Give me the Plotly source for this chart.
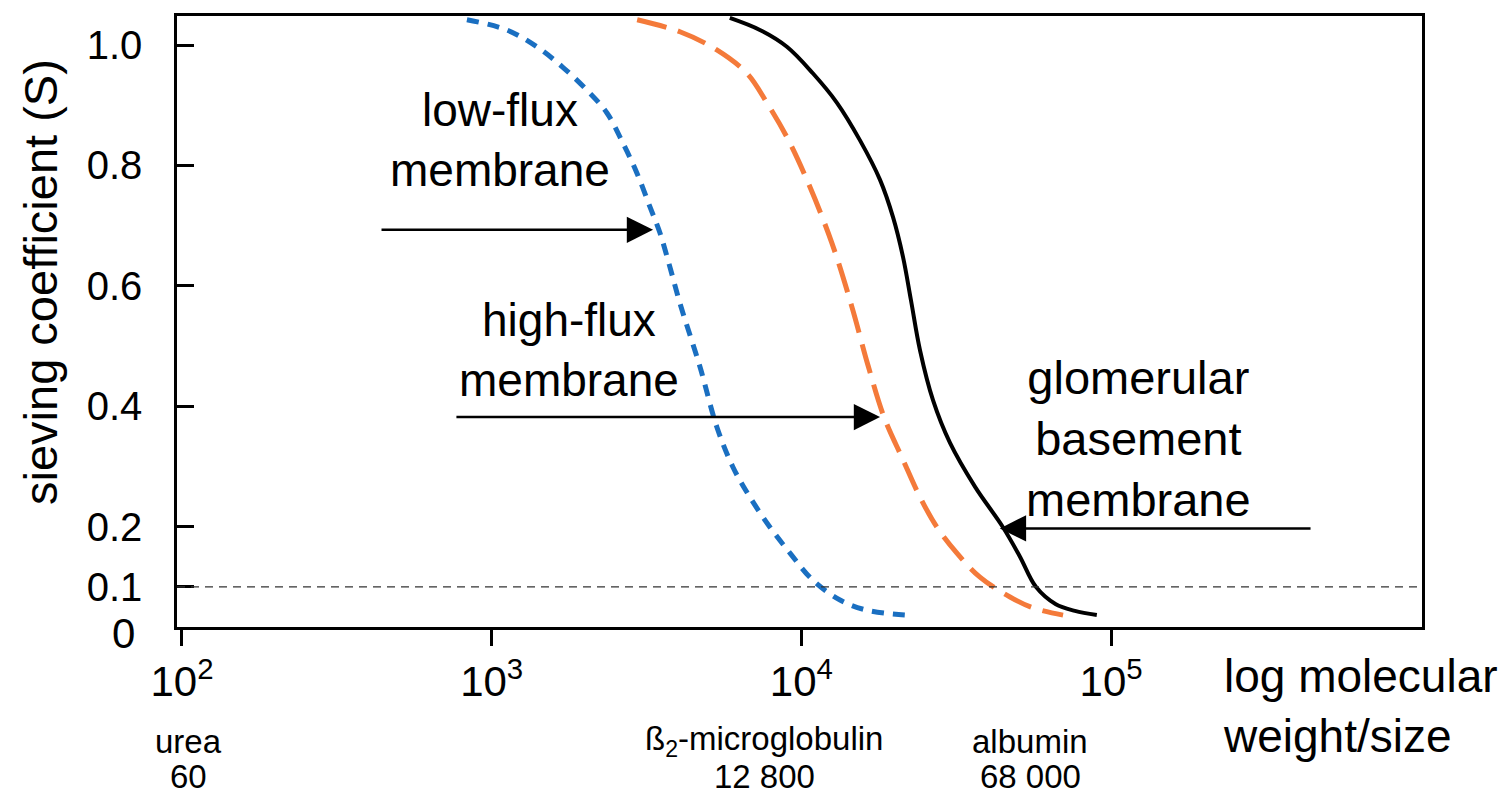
import math
import plotly.graph_objects as go

# ---------------- data ----------------
mw_low = [832, 1119, 1400, 1698, 2031, 2357, 2654, 2946, 3245, 3494, 3764, 4055,
          4708, 5338, 6010, 6820, 7920, 9190, 10890, 13330, 16300, 21930]
s_low = [1.042, 1.025, 0.997, 0.963, 0.925, 0.887, 0.837, 0.787, 0.731, 0.688, 0.631, 0.571,
         0.465, 0.365, 0.299, 0.249, 0.199, 0.156, 0.111, 0.078, 0.061, 0.053]

mw_high = [2950, 4055, 5333, 6670, 7740, 8980, 10420, 12550, 14560, 16410, 18490, 21290,
           24160, 27410, 31790, 37730, 47190, 55970, 69980]
s_high = [1.042, 1.022, 0.992, 0.953, 0.904, 0.847, 0.776, 0.671, 0.565, 0.468, 0.382, 0.311,
          0.249, 0.199, 0.156, 0.116, 0.083, 0.065, 0.053]

mw_gbm = [5875, 7345, 8980, 10890, 13030, 15450, 17950, 19770, 21290, 22590, 24160, 26610,
          30200, 36390, 44770, 50800, 57180, 66330, 76430, 89950]
s_gbm = [1.045, 1.025, 0.997, 0.953, 0.904, 0.842, 0.776, 0.714, 0.648, 0.576, 0.493, 0.410,
         0.339, 0.266, 0.199, 0.150, 0.100, 0.071, 0.060, 0.053]

x_tickvals = [1e2, 1e3, 1e4, 1e5]
x_ticktext = ["10<sup>2</sup>", "10<sup>3</sup>", "10<sup>4</sup>", "10<sup>5</sup>"]
y_tickvals = [0.1, 0.2, 0.4, 0.6, 0.8, 1.0]
y_ticktext = ["0.1", "0.2", "0.4", "0.6", "0.8", "1.0"]
threshold_s = 0.1

# arrows: (tip molecular weight, tip S, tail molecular weight)
arrow_low = (3320, 0.693, 436)
arrow_high = (17950, 0.382, 761)
arrow_gbm = (43750, 0.197, 445600)

marker_names = ["urea", "ß<sub>2</sub>-microglobulin", "albumin"]
marker_weights = ["60", "12 800", "68 000"]

# ---------------- layout geometry ----------------
W, H = 1505, 797
L, R, T, B = 177, 1422, 16, 627
FONT = "Liberation Sans, Arial, sans-serif"


def px(x):
    return (x - L) / (R - L)


def py(y):
    return (B - y) / (B - T)


fig = go.Figure()
fig.add_trace(go.Scatter(x=mw_low, y=s_low, mode="lines", line_shape="spline",
                         line=dict(color="#1a6fc1", width=5, dash="12px,9px"),
                         name="low-flux", showlegend=False))
fig.add_trace(go.Scatter(x=mw_high, y=s_high, mode="lines", line_shape="spline",
                         line=dict(color="#f47a3a", width=5, dash="30px,12px"),
                         name="high-flux", showlegend=False))
fig.add_trace(go.Scatter(x=mw_gbm, y=s_gbm, mode="lines", line_shape="spline",
                         line=dict(color="black", width=4),
                         name="glomerular", showlegend=False))

fig.add_shape(type="line", xref="paper", yref="y", x0=0, x1=1, y0=threshold_s, y1=threshold_s,
              line=dict(color="#333333", width=1.3, dash="8px,6px"))
# the first x tick pokes slightly into the frame
fig.add_shape(type="line", xref="x", yref="paper", x0=math.log10(x_tickvals[0]),
              x1=math.log10(x_tickvals[0]), y0=0, y1=py(614),
              line=dict(color="black", width=2.5))

annotations = []
for tip_mw, tip_s, tail_mw in (arrow_low, arrow_high, arrow_gbm):
    annotations.append(dict(x=math.log10(tip_mw), y=tip_s, xref="x", yref="y",
                            ax=math.log10(tail_mw), ay=tip_s, axref="x", ayref="y",
                            showarrow=True, arrowhead=2, arrowsize=2.1, arrowwidth=2.5,
                            arrowcolor="black", standoff=0, text=""))

big = dict(family=FONT, size=46, color="black")
small = dict(family=FONT, size=33, color="black")

annotations += [
    dict(text="low-flux<br>membrane", x=px(500), y=py(140), xref="paper", yref="paper",
         showarrow=False, font=big, align="center", xanchor="center", yanchor="middle"),
    dict(text="high-flux<br>membrane", x=px(569), y=py(350), xref="paper", yref="paper",
         showarrow=False, font=big, align="center", xanchor="center", yanchor="middle"),
    dict(text="glomerular<br>basement<br>membrane", x=px(1138), y=py(438), xref="paper",
         yref="paper", showarrow=False, font=dict(family=FONT, size=47, color="black"),
         align="center", xanchor="center", yanchor="middle"),
    dict(text="log molecular<br>weight/size", x=px(1221), y=py(706), xref="paper",
         yref="paper", showarrow=False, font=big, align="left", xanchor="left",
         yanchor="middle"),
    dict(text="sieving coefficient (S)", x=px(40), y=py(282), xref="paper", yref="paper",
         showarrow=False, font=dict(family=FONT, size=47, color="black"), textangle=-90,
         xanchor="center", yanchor="middle"),
    dict(text="0", x=px(137), y=py(633), xref="paper", yref="paper", showarrow=False,
         font=dict(family=FONT, size=42, color="black"), xanchor="right", yanchor="middle"),
]
for name, weight, cx in zip(marker_names, marker_weights, (188, 764, 1030)):
    annotations.append(dict(text=name, x=px(cx), y=py(741), xref="paper", yref="paper",
                            showarrow=False, font=small, xanchor="center", yanchor="middle"))
    annotations.append(dict(text=weight, x=px(cx), y=py(776), xref="paper", yref="paper",
                            showarrow=False, font=small, xanchor="center", yanchor="middle"))

ymin = (647 - B) / 602
ymax = (647 - T) / 602

fig.update_layout(
    width=W, height=H,
    margin=dict(l=L, r=W - R, t=T, b=H - B),
    paper_bgcolor="white", plot_bgcolor="white",
    font=dict(family=FONT, color="black"),
    annotations=annotations,
    xaxis=dict(type="log", range=[1.984, 6.004], tickvals=x_tickvals, ticktext=x_ticktext,
               ticks="outside", ticklen=16, tickwidth=2.5, tickcolor="black",
               showline=True, linecolor="black", linewidth=2.5, mirror=True,
               showgrid=False, zeroline=False, tickfont=dict(family=FONT, size=42),
               ticklabelstandoff=0),
    yaxis=dict(range=[ymin, ymax], tickvals=y_tickvals, ticktext=y_ticktext,
               ticks="inside", ticklen=17, tickwidth=2.5, tickcolor="black",
               showline=True, linecolor="black", linewidth=2.5, mirror=True,
               showgrid=False, zeroline=False, tickfont=dict(family=FONT, size=40),
               ticklabelstandoff=24),
)

fig.write_html("out.html")
